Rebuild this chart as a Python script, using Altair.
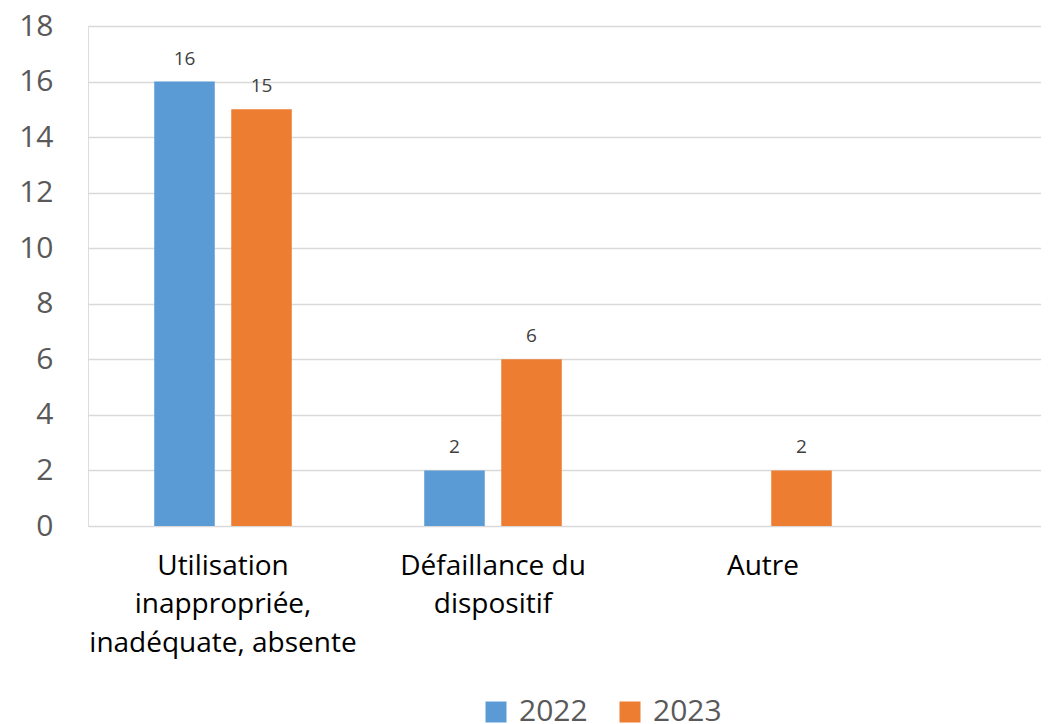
import altair as alt
import pandas as pd

categories = [
    "Utilisation\ninappropriée,\ninadéquate, absente",
    "Défaillance du\ndispositif",
    "Autre",
]
years = ["2022", "2023"]
values_2022 = [16, 2, 0]
values_2023 = [15, 6, 2]
colors = ["#5B9BD5", "#ED7D31"]
y_ticks = [0, 2, 4, 6, 8, 10, 12, 14, 16, 18]

rows = []
for c, a, b in zip(categories, values_2022, values_2023):
    rows.append({"cat": c, "year": years[0], "value": a})
    rows.append({"cat": c, "year": years[1], "value": b})
df = pd.DataFrame(rows)

FONT = "Open Sans"

x = alt.X(
    "cat:N",
    sort=categories,
    scale=alt.Scale(paddingInner=0, paddingOuter=0.2648, align=0),
    axis=alt.Axis(
        title=None,
        labelAngle=0,
        labelExpr="split(datum.label, '\\n')",
        labelFontSize=28,
        labelFont=FONT,
        labelColor="#000000",
        labelPadding=26,
        labelLineHeight=38.5,
        labelBaseline="top",
        labelLimit=0,
        domain=False,
        ticks=False,
        grid=False,
    ),
)
xoff = alt.XOffset(
    "year:N",
    sort=years,
    scale=alt.Scale(paddingInner=0.214, paddingOuter=0.86),
)
y = alt.Y(
    "value:Q",
    scale=alt.Scale(domain=[0, 18], nice=False),
    axis=alt.Axis(
        title=None,
        values=y_ticks,
        domain=False,
        ticks=False,
        labelFontSize=30,
        labelFont=FONT,
        labelColor="#595959",
        labelPadding=35,
        gridColor="#D9D9D9",
        gridWidth=1.5,
    ),
)
color = alt.Color(
    "year:N",
    sort=years,
    scale=alt.Scale(domain=years, range=colors),
    legend=alt.Legend(
        title=None,
        orient="none",
        direction="horizontal",
        legendX=393,
        legendY=671,
        padding=0,
        symbolType="square",
        symbolSize=441,
        symbolStrokeWidth=0,
        symbolOpacity=1,
        labelFontSize=30,
        labelFont=FONT,
        labelColor="#595959",
        labelOffset=8,
        columnPadding=27,
    ),
)

base = alt.Chart(df).transform_filter("datum.value > 0")

bars = base.mark_bar(opacity=1).encode(x=x, xOffset=xoff, y=y, color=color)
labels = base.mark_text(
    baseline="alphabetic", dy=-17, fontSize=19, font=FONT, color="#404040"
).encode(x=x, xOffset=xoff, y=y, text=alt.Text("value:Q"))

chart = (
    alt.layer(bars, labels)
    .properties(
        width=953,
        height=500,
        autosize=alt.AutoSizeParams(type="none"),
        padding={"left": 80, "top": 18, "right": 0, "bottom": 198},
    )
    .configure_view(stroke=None)
    .configure(background="white")
)

chart.save("out.html", embed_options={"renderer": "svg", "actions": False})
